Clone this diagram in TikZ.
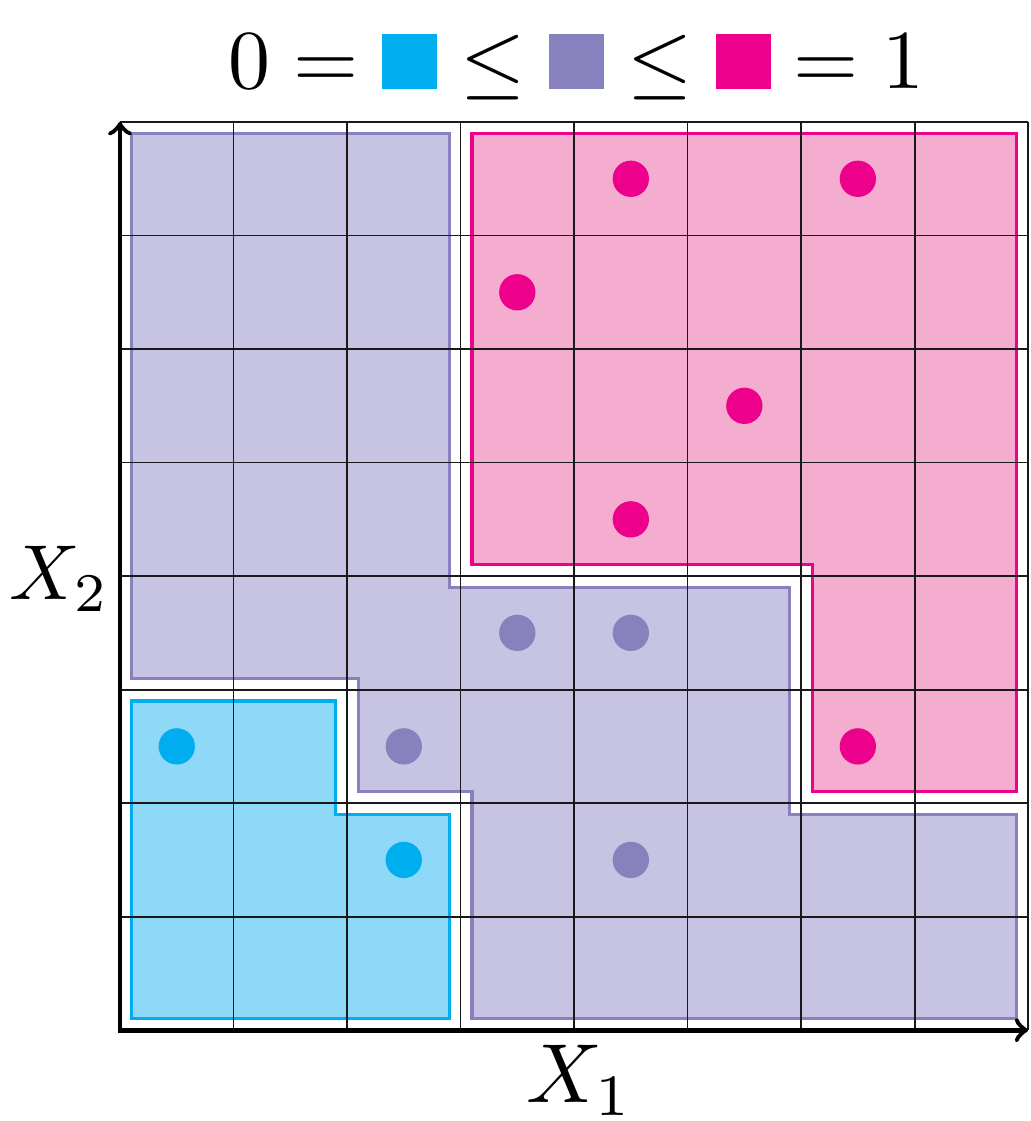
\documentclass[tikz,border=0pt]{standalone}
\usepackage{amsmath, amssymb}
\usepackage{tikz}
\usepackage{xcolor}

\definecolor{lowc}{RGB}{0,174,239}
\definecolor{midc}{RGB}{135,129,189}
\definecolor{highc}{RGB}{236,0,140}
\definecolor{lowf}{RGB}{142,216,248}
\definecolor{midf}{RGB}{198,196,226}
\definecolor{highf}{RGB}{244,173,206}

\newcommand{\legbox}[1]{\textcolor{#1}{\rule{0.231cm}{0.231cm}}}

\begin{document}
\begin{tikzpicture}[
        region/.style={line width=0.8pt},
        lbl/.style={inner sep=0pt, scale=2.1}]
        \useasboundingbox (-1.057,-0.80) rectangle (8.018,9.075);
        % regions
        \filldraw[region, lowc, fill=lowf] (0.1,0.1) -- (2.9,0.1) -- (2.9,1.9) -- (1.9,1.9)
            -- (1.9,2.9) -- (0.1,2.9) -- cycle;
        \filldraw[region, midc, fill=midf] (0.1,3.1) -- (2.1,3.1) -- (2.1,2.1) -- (3.1,2.1)
            -- (3.1,0.1) -- (7.9,0.1) -- (7.9,1.9) -- (5.9,1.9) -- (5.9,3.9) -- (2.9,3.9)
            -- (2.9,7.9) -- (0.1,7.9) -- cycle;
        \filldraw[region, highc, fill=highf] (3.1,4.1) -- (6.1,4.1) -- (6.1,2.1) -- (7.9,2.1)
            -- (7.9,7.9) -- (3.1,7.9) -- cycle;
        \draw[black!90, line width=0.45pt] (0,0) grid (8,8);
        % points
        \foreach \x/\y in {0.5/2.5, 2.5/1.5} \fill[lowc] (\x,\y) circle (0.16);
        \foreach \x/\y in {3.5/3.5, 4.5/3.5, 2.5/2.5, 4.5/1.5} \fill[midc] (\x,\y) circle (0.16);
        \foreach \x/\y in {4.5/7.5, 6.5/7.5, 3.5/6.5, 5.5/5.5, 4.5/4.5, 6.5/2.5}
            \fill[highc] (\x,\y) circle (0.16);
        % axes
        \draw[very thick, <->] (0,8) |- (8,0);
        \node (xlab) [lbl, anchor=base] at (4.05,-0.64) {$X_1$};
        \node (ylab) [lbl, scale=0.93, anchor=base east] at (-0.08,3.79) {$X_2$};
        \node (legend) [lbl, anchor=base] at (4.02,8.294)
            {$0 = \legbox{lowc} \leq \legbox{midc} \leq \legbox{highc} = 1$};
\end{tikzpicture}
\end{document}
